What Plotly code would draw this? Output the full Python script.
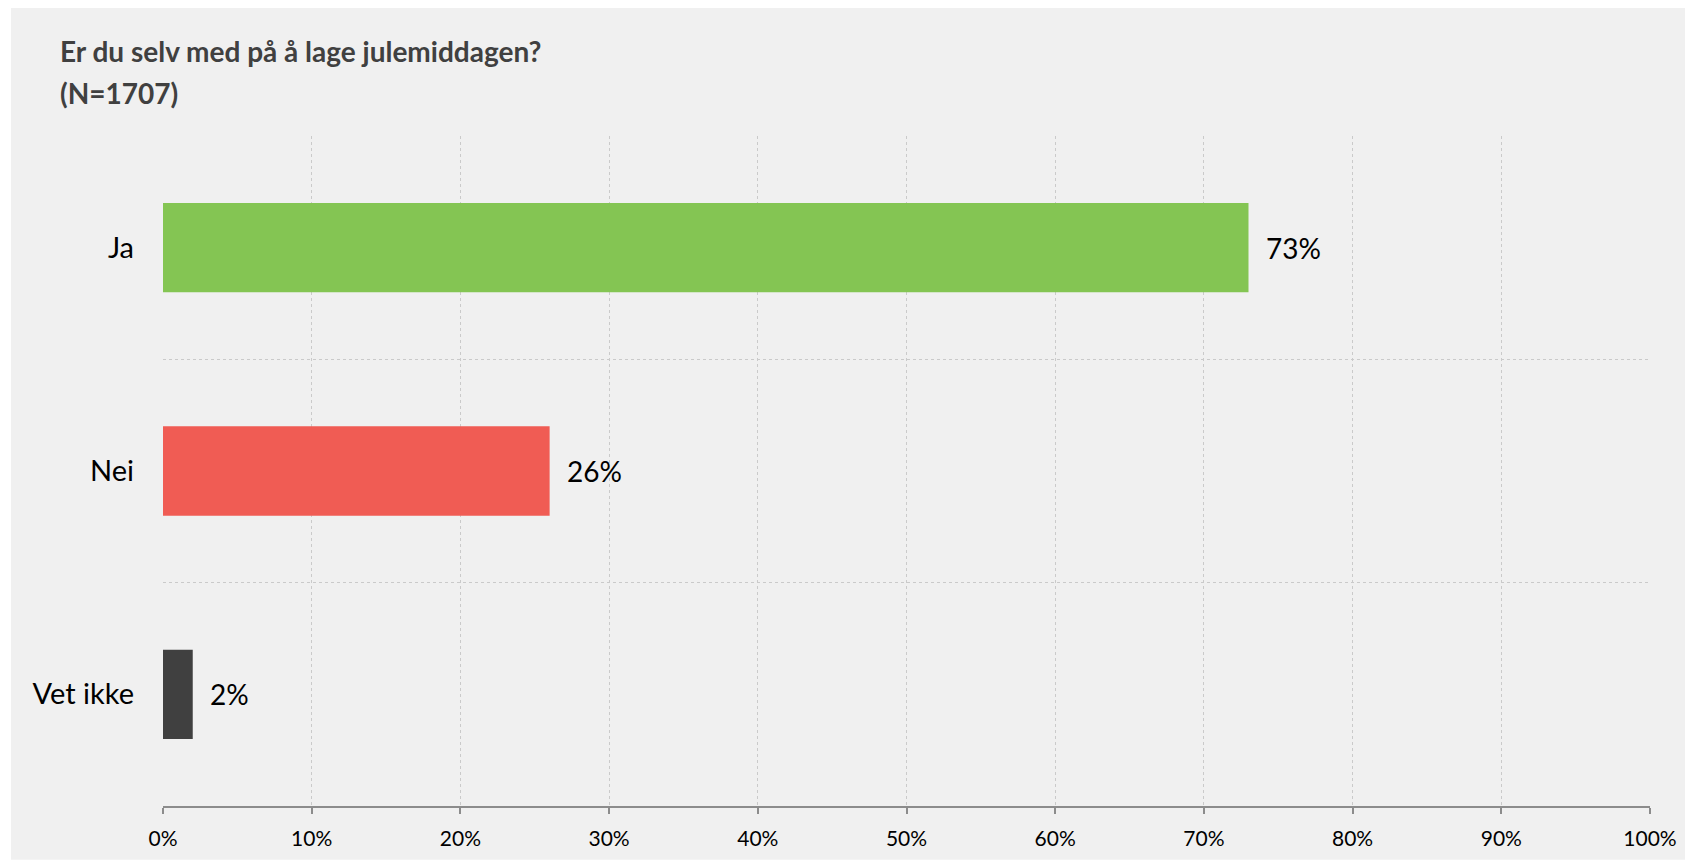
import plotly.graph_objects as go

categories = ["Ja", "Nei", "Vet ikke"]
values = [73, 26, 2]
bar_colors = ["#84C553", "#F05C54", "#404040"]
x_tick_vals = [0, 10, 20, 30, 40, 50, 60, 70, 80, 90, 100]
title_line1 = "Er du selv med på å lage julemiddagen?"
title_line2 = "(N=1707)"

OFF = 8  # page body margin
W, H = 1693 - OFF, 862 - OFF
L, R, T, B = 163 - OFF, 43, 136 - OFF, 54
pw, ph = W - L - R, H - T - B

FONT = "Lato"

fig = go.Figure()
fig.add_trace(go.Bar(
    x=values, y=categories, orientation="h",
    marker=dict(color=bar_colors, line=dict(width=0)),
    width=0.4, hoverinfo="skip",
))

for c, v in zip(categories, values):
    fig.add_annotation(x=v, y=c, xref="x", yref="y", text=f"{v}%",
                       showarrow=False, xanchor="left", yanchor="middle",
                       xshift=15, font=dict(family=FONT, size=28, color="#000000"))

def px2paper_x(px):
    return (px - OFF - L) / pw

def py2paper_y(py):
    return (H - B - (py - OFF)) / ph

# grey background panel (white strip on left/top)
fig.add_shape(type="rect", xref="paper", yref="paper",
              x0=px2paper_x(11), x1=px2paper_x(1693),
              y0=py2paper_y(862), y1=py2paper_y(7),
              fillcolor="#F0F0F0", line=dict(width=0), layer="below")

fig.add_annotation(xref="paper", yref="paper", x=px2paper_x(58), y=py2paper_y(51),
                   xanchor="left", yanchor="middle", showarrow=False,
                   text=f"<b>{title_line1}</b>",
                   font=dict(family=FONT, size=28, color="#404040"))
fig.add_annotation(xref="paper", yref="paper", x=px2paper_x(58), y=py2paper_y(93),
                   xanchor="left", yanchor="middle", showarrow=False,
                   text=f"<b>{title_line2}</b>",
                   font=dict(family=FONT, size=28, color="#404040"))

fig.update_layout(
    width=W, height=H,
    margin=dict(l=L, r=R, t=T, b=B, pad=0),
    paper_bgcolor="#FFFFFF", plot_bgcolor="#F0F0F0",
    showlegend=False,
    xaxis=dict(
        range=[0, 100], tickvals=x_tick_vals,
        ticktext=[f"{v}%" for v in x_tick_vals],
        showgrid=True, gridcolor="#CACACA", griddash="dot", gridwidth=1,
        showline=True, linecolor="#8C8C8C", linewidth=2,
        ticks="outside", ticklen=6, tickwidth=2, tickcolor="#8C8C8C",
        tickfont=dict(family=FONT, size=21, color="#000000"),
        ticklabelstandoff=7,
        zeroline=False, fixedrange=True,
    ),
    yaxis=dict(
        type="category", categoryorder="array", categoryarray=categories,
        autorange="reversed",
        tickson="boundaries", ticks="", showgrid=True,
        gridcolor="#CACACA", griddash="dot", gridwidth=1,
        showline=False, zeroline=False,
        tickfont=dict(family=FONT, size=29, color="#000000"),
        ticklabelstandoff=28, fixedrange=True,
    ),
)

fig.write_html("out.html")
